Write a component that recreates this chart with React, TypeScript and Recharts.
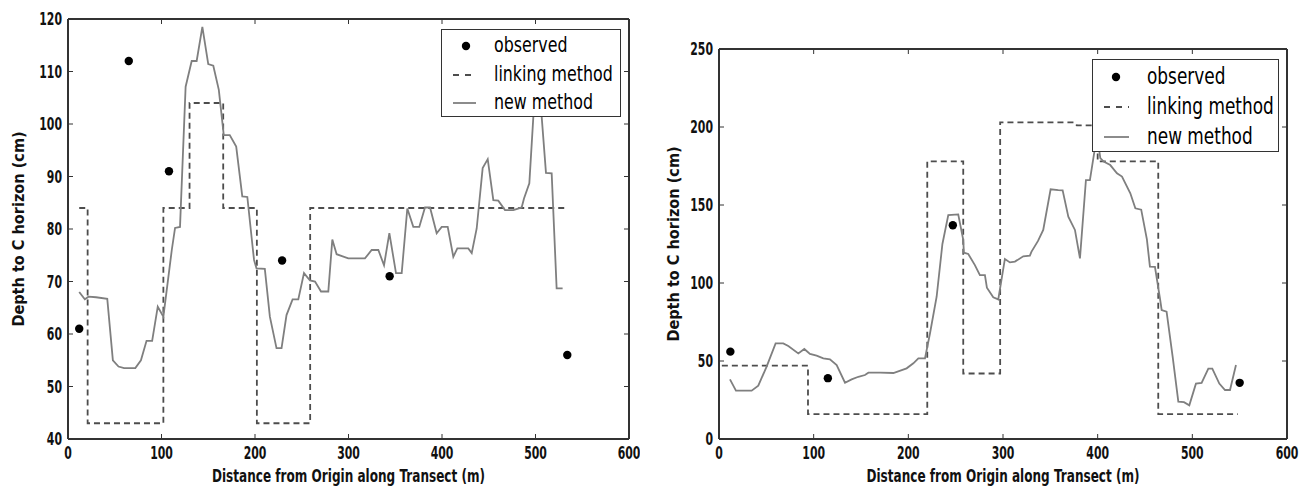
import React from "react";
import { ComposedChart, Line, Scatter, XAxis, YAxis, Legend } from "recharts";

const FONT = "'DejaVu Sans', sans-serif";
const FRAME = "#333";
const SQUEEZE = 0.68; // the source figure is squeezed horizontally
const TICK_SQUEEZE = 0.64;

const X_TICKS = [0, 100, 200, 300, 400, 500, 600];
const SERIES = ["observed", "linking method", "new method"];

// ---- left transect ----
const LEFT_Y_TICKS = [40, 50, 60, 70, 80, 90, 100, 110, 120];
const LEFT_OBSERVED = [[12, 61], [65, 112], [108, 91], [229, 74], [344, 71], [534, 56]];
const LEFT_LINKING = [
  [12, 84], [21, 84], [21, 43], [102, 43], [102, 84], [130, 84], [130, 104],
  [166, 104], [166, 84], [202, 84], [202, 43], [259, 43], [259, 84], [534, 84],
];
const LEFT_NEW = [
  [12, 68], [18, 66.6], [22, 67.1], [30, 67], [42, 66.7], [48, 55], [54, 53.8],
  [60, 53.5], [72, 53.5], [78, 55], [84, 58.7], [90, 58.7], [96, 65.2], [102, 63.3],
  [111, 76], [114.5, 80.2], [119.8, 80.4], [125.8, 107.1], [132.3, 112], [137.6, 112],
  [143.7, 118.5], [150, 111.4], [155.4, 111.1], [161.3, 106.5], [166.6, 97.9],
  [173, 97.9], [179.9, 95.7], [186.4, 86.2], [191.8, 86.1], [197.8, 76], [199, 74.1],
  [201.6, 72.5], [210.5, 72.4], [215.9, 63.3], [223, 57.3], [228.4, 57.3],
  [233.7, 63.6], [240.2, 66.6], [246.3, 66.6], [252.4, 71.6], [258.8, 70.2],
  [264.2, 70], [270.6, 68.1], [278.4, 68.1], [282.7, 78], [287.3, 75.2],
  [299.8, 74.4], [317.6, 74.4], [324.8, 76], [331.9, 76], [338, 73.1], [343.7, 79.2],
  [350.8, 71.6], [356.9, 71.6], [362.9, 83.9], [369.3, 80.4], [375.7, 80.4],
  [381.8, 84.1], [387.2, 84.1], [394.3, 79.2], [399.7, 80.4], [406.1, 80.4],
  [412.1, 74.7], [416.4, 76.3], [428.1, 76.3], [431.8, 75.4], [437.1, 80.1],
  [443.5, 91.6], [448.9, 93.3], [454.9, 85.5], [460.2, 85.4], [467.4, 83.6],
  [476.3, 83.6], [485.2, 84.1], [487.7, 85.8], [493.4, 88.7], [497.7, 101.4],
  [502, 110], [504, 110], [506.6, 101.4], [511.2, 90.7], [517.3, 90.6],
  [522.6, 68.7], [529, 68.7],
];

// ---- right transect ----
const RIGHT_Y_TICKS = [0, 50, 100, 150, 200, 250];
const RIGHT_OBSERVED = [[12, 56], [115, 39], [247, 137], [550, 36]];
const RIGHT_LINKING = [
  [3, 47], [94, 47], [94, 16], [220, 16], [220, 178], [258, 178], [258, 42],
  [297, 42], [297, 203], [376, 203], [378, 201], [400, 201], [400, 178],
  [464, 178], [464, 16], [548, 16],
];
const RIGHT_NEW = [
  [11.6, 38.2], [17.9, 31], [34.5, 31], [41.5, 34.2], [50.3, 46.4], [59.8, 61.3],
  [67.9, 61.3], [73.2, 59.6], [83.8, 54.9], [90.1, 57.7], [96.1, 54.5],
  [103.1, 53.4], [110.2, 51.7], [117.2, 51.1], [124.3, 47.4], [133.1, 36.1],
  [140.1, 38.2], [147.2, 39.9], [154.2, 41], [157.8, 42.5], [170.1, 42.5],
  [184.2, 42.3], [198.2, 45.3], [205.3, 48.5], [210.6, 51.7], [217.6, 51.7],
  [222.9, 67.8], [229.9, 91.2], [236, 125], [242.2, 143.6], [252.7, 144],
  [258, 127.6], [258.7, 119.4], [263.3, 118.6], [270.3, 111.5], [275.6, 105.1],
  [280.9, 105.1], [283, 97], [289.7, 90.8], [295, 89.5], [302, 115.4],
  [307.3, 113.2], [312.6, 113.7], [321.4, 117.1], [328.4, 117.5], [330, 120],
  [337, 127], [342.5, 134], [350.3, 160.1], [358.4, 159.6], [363, 159.4],
  [369, 142.5], [376, 134], [381.3, 115.8], [387.6, 166], [391.8, 166],
  [397, 186], [400, 192], [402.8, 180], [406.3, 177.8], [413.3, 175.6],
  [420.4, 170.3], [425.7, 168.2], [434.5, 157.5], [439.8, 147.9], [446, 147],
  [452, 128], [455.2, 110.5], [460.5, 110.3], [465.8, 90.2], [467.6, 82.7],
  [472.8, 81.6], [479.2, 52.8], [485.2, 23.9], [491.2, 23.6], [496.8, 21.6],
  [503.8, 35.5], [509.8, 35.9], [516.9, 45.1], [521.1, 45.1], [528.5, 35.5],
  [534.5, 31.4], [539.8, 31.4], [546.1, 47.4],
];

const toPoints = (rows: number[][]) => rows.map(([x, y]) => ({ x, y }));

const EmptyTick = () => <g />;

function XTick(props: any) {
  const { x, y, payload } = props;
  return (
    <text
      transform={`translate(${x},${y}) scale(${TICK_SQUEEZE},1)`}
      textAnchor="middle"
      dy="0.74em"
      fontSize={17}
      fontWeight="bold"
      fontFamily={FONT}
      fill="#111"
    >
      {payload.value}
    </text>
  );
}

function YTick(props: any) {
  const { x, y, payload } = props;
  return (
    <text
      transform={`translate(${x},${y}) scale(${TICK_SQUEEZE},1)`}
      textAnchor="end"
      dy="0.36em"
      fontSize={17}
      fontWeight="bold"
      fontFamily={FONT}
      fill="#111"
    >
      {payload.value}
    </text>
  );
}

function XTitle(props: any) {
  const { x, y, width, height } = props.viewBox;
  return (
    <text
      transform={`translate(${x + width / 2},${y + height - 3}) scale(0.71,1)`}
      textAnchor="middle"
      fontSize={17}
      fontWeight="bold"
      fontFamily={FONT}
      fill="#111"
    >
      Distance from Origin along Transect (m)
    </text>
  );
}

const makeYTitle = (cx: number) => (props: any) => {
  const { y, height } = props.viewBox;
  return (
    <text
      transform={`translate(${cx},${y + height / 2}) rotate(-90) scale(1,1.1)`}
      textAnchor="middle"
      dominantBaseline="central"
      fontSize={14.5}
      fontWeight="bold"
      fontFamily={FONT}
      fill="#111"
    >
      Depth to C horizon (cm)
    </text>
  );
};

function LegendBox({ payload, box }: any) {
  return (
    <div
      style={{
        position: "relative",
        width: box.w,
        height: box.h,
        boxSizing: "border-box",
        border: `1.5px solid ${FRAME}`,
        background: "#fff",
        fontFamily: FONT,
      }}
    >
      {SERIES.map((name, i) => {
        const entry = (payload || []).find((p: any) => p.value === name);
        const cy = box.first + i * box.gap;
        return (
          <div key={name}>
            <svg
              width={box.x1 - box.x0 + 2}
              height={12}
              style={{ position: "absolute", left: box.x0 - 1, top: cy - 6 }}
            >
              {i === 0 && <circle cx={box.dot - box.x0 + 1} cy={6} r={4.2} fill="#000" />}
              {i === 1 && (
                <line x1={1} x2={box.x1 - box.x0 + 1} y1={6} y2={6} stroke="#4d4d4d" strokeWidth={1.8} strokeDasharray="6 6" />
              )}
              {i === 2 && (
                <line x1={1} x2={box.x1 - box.x0 + 1} y1={6} y2={6} stroke="#7f7f7f" strokeWidth={1.8} />
              )}
            </svg>
            <span
              style={{
                position: "absolute",
                left: box.text,
                top: cy - box.font * 0.62,
                fontSize: box.font,
                lineHeight: `${box.font * 1.2}px`,
                whiteSpace: "nowrap",
                color: "#000",
                transform: `scaleX(${SQUEEZE + 0.04})`,
                transformOrigin: "left center",
              }}
            >
              {entry ? entry.value : name}
            </span>
          </div>
        );
      })}
    </div>
  );
}

function Panel({ cfg }: any) {
  const axisLine = { stroke: FRAME, strokeWidth: 2 };
  const tickLine = { stroke: FRAME, strokeWidth: 1 };
  return (
    <div style={{ position: "absolute", left: cfg.left, top: 0 }}>
      <ComposedChart width={cfg.width} height={487} margin={cfg.margin}>
        <XAxis
          xAxisId="b"
          type="number"
          dataKey="x"
          domain={[0, 600]}
          ticks={X_TICKS}
          interval={0}
          allowDataOverflow
          height={46}
          tickSize={-5}
          tickMargin={12}
          axisLine={axisLine}
          tickLine={tickLine}
          tick={XTick}
          label={{ content: XTitle }}
        />
        <XAxis
          xAxisId="t"
          orientation="top"
          type="number"
          dataKey="x"
          domain={[0, 600]}
          ticks={X_TICKS}
          interval={0}
          allowDataOverflow
          height={1}
          tickSize={-5}
          axisLine={axisLine}
          tickLine={tickLine}
          tick={EmptyTick}
        />
        <YAxis
          yAxisId="l"
          type="number"
          domain={cfg.yDomain}
          ticks={cfg.yTicks}
          interval={0}
          allowDataOverflow
          width={cfg.yWidth}
          tickSize={-5}
          tickMargin={11}
          axisLine={axisLine}
          tickLine={tickLine}
          tick={YTick}
          label={{ content: makeYTitle(cfg.yTitleX) }}
        />
        <YAxis
          yAxisId="r"
          orientation="right"
          type="number"
          domain={cfg.yDomain}
          ticks={cfg.yTicks}
          interval={0}
          allowDataOverflow
          width={1}
          tickSize={-5}
          axisLine={axisLine}
          tickLine={tickLine}
          tick={EmptyTick}
        />
        <Line
          xAxisId="b"
          yAxisId="l"
          data={toPoints(cfg.linking)}
          dataKey="y"
          name="linking method"
          stroke="#4d4d4d"
          strokeWidth={1.8}
          strokeDasharray="6 4"
          dot={false}
          activeDot={false}
          isAnimationActive={false}
        />
        <Line
          xAxisId="b"
          yAxisId="l"
          data={toPoints(cfg.fresh)}
          dataKey="y"
          name="new method"
          stroke="#7f7f7f"
          strokeWidth={1.8}
          dot={false}
          activeDot={false}
          isAnimationActive={false}
        />
        <Scatter
          xAxisId="b"
          yAxisId="l"
          data={toPoints(cfg.observed)}
          dataKey="y"
          name="observed"
          shape={(p: any) => <circle cx={p.cx} cy={p.cy} r={4.2} fill="#000" />}
          isAnimationActive={false}
        />
        <Legend
          layout="vertical"
          align="center"
          verticalAlign="middle"
          wrapperStyle={{ left: cfg.legend.left, top: cfg.legend.top, width: cfg.legend.w, height: cfg.legend.h }}
          content={(props: any) => <LegendBox payload={props.payload} box={cfg.legend} />}
        />
      </ComposedChart>
    </div>
  );
}

const LEFT_PANEL = {
  left: 0,
  width: 640,
  margin: { top: 18, right: 10, bottom: 2, left: 8 },
  yWidth: 60,
  yTitleX: 19,
  yDomain: [40, 120],
  yTicks: LEFT_Y_TICKS,
  observed: LEFT_OBSERVED,
  linking: LEFT_LINKING,
  fresh: LEFT_NEW,
  legend: { left: 441, top: 29, w: 180, h: 88, first: 16, gap: 28.5, x0: 11, x1: 34, dot: 24, text: 52, font: 22 },
};

const RIGHT_PANEL = {
  left: 660,
  width: 651,
  margin: { top: 48, right: 23, bottom: 2, left: 9 },
  yWidth: 50,
  yTitleX: 14,
  yDomain: [0, 250],
  yTicks: RIGHT_Y_TICKS,
  observed: RIGHT_OBSERVED,
  linking: RIGHT_LINKING,
  fresh: RIGHT_NEW,
  legend: { left: 432, top: 59, w: 187, h: 93, first: 17, gap: 30, x0: 11, x1: 36, dot: 23, text: 54, font: 23.5 },
};

export default function App() {
  return (
    <div style={{ position: "absolute", left: 0, top: 0, width: 1311, height: 487, background: "#fff", overflow: "hidden" }}>
      <Panel cfg={LEFT_PANEL} />
      <Panel cfg={RIGHT_PANEL} />
    </div>
  );
}
